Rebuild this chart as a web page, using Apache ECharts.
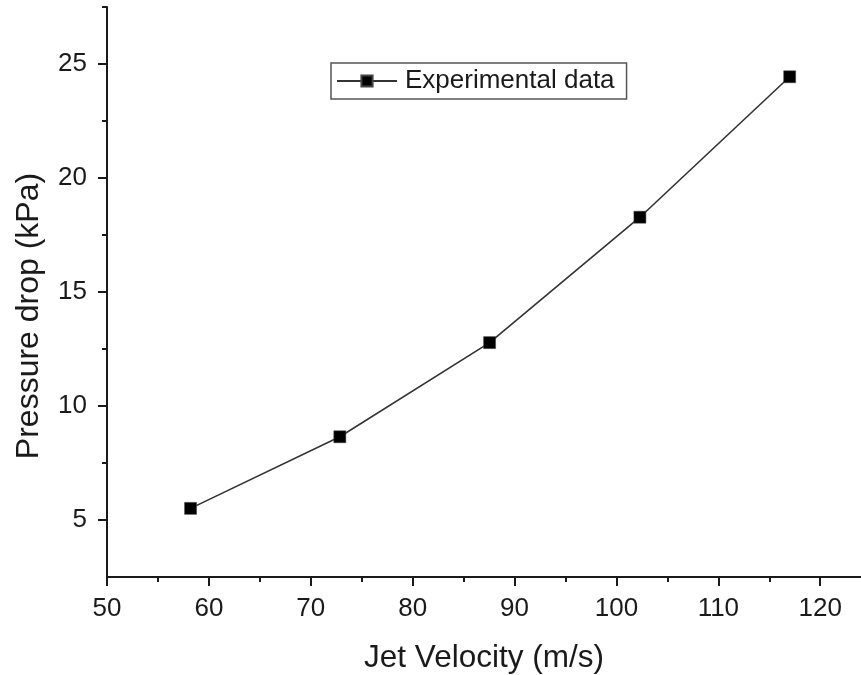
<!DOCTYPE html>
<html>
<head>
<meta charset="utf-8">
<script src="https://cdn.jsdelivr.net/npm/echarts@6/dist/echarts.min.js"></script>
<style>
html,body{margin:0;padding:0;background:#fff;}
#chart{width:861px;height:675px;}
</style>
</head>
<body>
<div id="chart"></div>
<script>
var seriesName = 'Experimental data';
var jetVelocity = [58.2, 72.85, 87.55, 102.3, 117.0];
var pressureDrop = [5.51, 8.65, 12.78, 18.28, 24.44];
var xMajorTicks = [50, 60, 70, 80, 90, 100, 110, 120];
var xMinorTicks = [55, 65, 75, 85, 95, 105, 115];
var yMajorTicks = [5, 10, 15, 20, 25];
var yMinorTicks = [7.5, 12.5, 17.5, 22.5, 27.5];
var xRange = [50, 124];
var yRange = [2.5, 27.5];

var FONT = '"Liberation Sans", Arial, sans-serif';
var INK = '#1a1a1a';

var chart = echarts.init(document.getElementById('chart'));
var pts = jetVelocity.map(function (v, i) { return [v, pressureDrop[i]]; });

function baseAxis(extra) {
  var a = {
    type: 'value',
    splitLine: { show: false },
    axisLine: { show: true, lineStyle: { color: INK, width: 2 } }
  };
  for (var k in extra) a[k] = extra[k];
  return a;
}

chart.setOption({
  backgroundColor: '#fff',
  animation: false,
  grid: { left: 107, right: 0, top: 7, bottom: 98, containLabel: false, outerBoundsMode: 'none' },
  legend: {
    data: [seriesName],
    left: 331, top: 63,
    orient: 'horizontal',
    itemWidth: 60, itemHeight: 14,
    padding: [5, 12, 5, 5],
    borderColor: '#555', borderWidth: 1.5,
    backgroundColor: '#fff',
    textStyle: { fontFamily: FONT, fontSize: 26, color: INK, padding: [0, 0, 0, 3] }
  },
  xAxis: [
    baseAxis({
      min: xRange[0], max: xRange[1],
      name: 'Jet Velocity (m/s)', nameLocation: 'middle', nameGap: 65,
      nameTextStyle: { fontFamily: FONT, fontSize: 31.5, color: INK },
      axisTick: { show: true, inside: false, length: 9, customValues: xMajorTicks, lineStyle: { color: INK, width: 2 } },
      axisLabel: { show: true, margin: 19, customValues: xMajorTicks, fontFamily: FONT, fontSize: 26, color: INK }
    }),
    baseAxis({
      min: xRange[0], max: xRange[1], position: 'bottom',
      axisLine: { show: false },
      axisTick: { show: true, inside: false, length: 5, customValues: xMinorTicks, lineStyle: { color: INK, width: 2 } },
      axisLabel: { show: false }
    })
  ],
  yAxis: [
    baseAxis({
      min: yRange[0], max: yRange[1],
      name: 'Pressure drop (kPa)', nameLocation: 'middle', nameGap: 62,
      nameTextStyle: { fontFamily: FONT, fontSize: 32, color: INK, padding: [0, 48, 0, 0] },
      axisTick: { show: true, inside: false, length: 9, customValues: yMajorTicks, lineStyle: { color: INK, width: 2 } },
      axisLabel: { show: true, margin: 20, customValues: yMajorTicks, fontFamily: FONT, fontSize: 26, color: INK }
    }),
    baseAxis({
      min: yRange[0], max: yRange[1], position: 'left',
      axisLine: { show: false },
      axisTick: { show: true, inside: false, length: 5, customValues: yMinorTicks, lineStyle: { color: INK, width: 2 } },
      axisLabel: { show: false }
    })
  ],
  series: [{
    name: seriesName,
    type: 'line',
    xAxisIndex: 0, yAxisIndex: 0,
    data: pts,
    symbol: 'rect',
    symbolSize: 12,
    showAllSymbol: true,
    lineStyle: { color: '#333', width: 1.6 },
    itemStyle: { color: '#000', borderColor: '#444', borderWidth: 0.5 }
  }]
});
</script>
</body>
</html>
